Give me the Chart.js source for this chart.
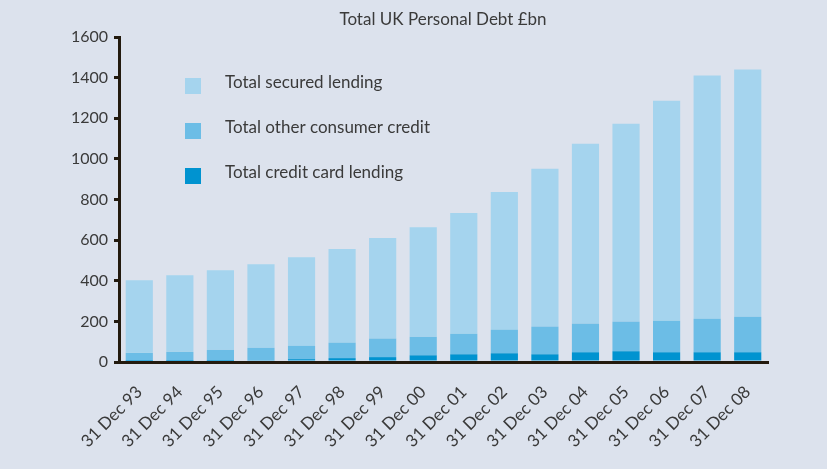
<!DOCTYPE html>
<html>
<head>
<meta charset="utf-8" />
<title>Total UK Personal Debt</title>
<style>
  html, body { margin: 0; padding: 0; background: #dce2ed; }
  #wrap { width: 827px; height: 469px; }
</style>
<script src="https://cdn.jsdelivr.net/npm/chart.js@4.4.1/dist/chart.umd.min.js"></script>
</head>
<body>
<div id="wrap"><canvas id="debt"></canvas></div>
<script>
// year-end stocks, £bn
var dates = ['31 Dec 93', '31 Dec 94', '31 Dec 95', '31 Dec 96', '31 Dec 97', '31 Dec 98',
             '31 Dec 99', '31 Dec 00', '31 Dec 01', '31 Dec 02', '31 Dec 03', '31 Dec 04',
             '31 Dec 05', '31 Dec 06', '31 Dec 07', '31 Dec 08'];
var creditCard = [5, 5, 5, 9, 14, 19, 24, 33, 38, 43, 38, 48, 53, 48, 48, 48];
var otherConsumer = [40, 45, 55, 61, 66, 76, 91, 91, 101, 116, 136, 141, 146, 155, 165, 175];
var secured = [357, 377, 392, 411, 436, 461, 495, 540, 594, 678, 777, 885, 974, 1083, 1197, 1217];
var yTicks = [0, 200, 400, 600, 800, 1000, 1200, 1400, 1600];
var chartTitle = 'Total UK Personal Debt £bn';

var ink = '#3a3a3a';
var axisColour = '#231a0e';
var fontFamily = 'Lato, "Open Sans", sans-serif';

// title sits off-centre, over the right part of the plot
var topTitle = {
  id: 'topTitle',
  afterDraw: function(chart) {
    var ctx = chart.ctx;
    ctx.save();
    ctx.font = '17px ' + fontFamily;
    ctx.fillStyle = ink;
    ctx.textAlign = 'center';
    ctx.textBaseline = 'middle';
    ctx.fillText(chartTitle, 443, 20);
    ctx.restore();
  }
};

// legend drawn inside the plot, top-left, secured first
var innerLegend = {
  id: 'innerLegend',
  afterDraw: function(chart) {
    var ctx = chart.ctx;
    var sets = chart.data.datasets.slice().reverse();
    ctx.save();
    ctx.font = '17px ' + fontFamily;
    ctx.textBaseline = 'middle';
    sets.forEach(function(ds, i) {
      var y = 86 + i * 45;
      ctx.fillStyle = ds.backgroundColor;
      ctx.fillRect(185, y - 8, 16, 16);
      ctx.fillStyle = ink;
      ctx.fillText(ds.label, 225, y - 3);
    });
    ctx.restore();
  }
};

new Chart(document.getElementById('debt'), {
  type: 'bar',
  data: {
    labels: dates,
    datasets: [
      { label: 'Total credit card lending', data: creditCard, backgroundColor: '#0093d0' },
      { label: 'Total other consumer credit', data: otherConsumer, backgroundColor: '#6cbde6' },
      { label: 'Total secured lending', data: secured, backgroundColor: '#a5d4ee' }
    ]
  },
  options: {
    responsive: true,
    maintainAspectRatio: false,
    animation: false,
    layout: { padding: { left: 0, right: 59, top: 37, bottom: 0 } },
    datasets: { bar: { barPercentage: 0.67, categoryPercentage: 1 } },
    plugins: {
      legend: { display: false },
      tooltip: { enabled: false },
      title: { display: false }
    },
    scales: {
      x: {
        stacked: true,
        grid: { display: false },
        border: { color: axisColour, width: 3 },
        ticks: {
          color: ink,
          font: { family: fontFamily, size: 17 },
          maxRotation: 45,
          minRotation: 45,
          padding: 12
        },
        afterFit: function(scale) { scale.height = 107; }
      },
      y: {
        stacked: true,
        min: 0,
        max: 1600,
        afterBuildTicks: function(scale) {
          scale.ticks = yTicks.map(function(v) { return { value: v }; });
        },
        grid: {
          drawOnChartArea: false,
          drawTicks: true,
          tickLength: 5,
          color: axisColour,
          lineWidth: 3
        },
        border: { color: axisColour, width: 3 },
        ticks: {
          color: ink,
          font: { family: fontFamily, size: 16 },
          padding: 6,
          callback: function(v) { return String(v); }
        },
        afterFit: function(scale) { scale.width = 119; }
      }
    }
  },
  plugins: [topTitle, innerLegend]
});
</script>
</body>
</html>
